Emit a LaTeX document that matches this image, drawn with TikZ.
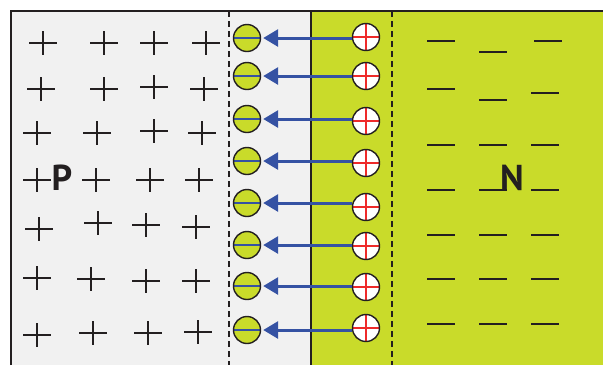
\documentclass[tikz,border=0pt]{standalone}
\usepackage{fontspec}
\setmainfont{PT Sans}
\usetikzlibrary{arrows.meta}
\definecolor{ngreen}{HTML}{C9DB2A}
\definecolor{pgray}{HTML}{F1F1F1}
\definecolor{ink}{HTML}{231F20}
\definecolor{eblue}{HTML}{3552A3}
\definecolor{hred}{HTML}{EE2A2A}
\tikzset{
  lchg/.style={circle, minimum size=27pt, inner sep=0pt, fill=ngreen, draw=ink, line width=1.4pt,
    path picture={\draw[eblue, line width=1.8pt] (path picture bounding box.west) -- (path picture bounding box.east);}},
  rchg/.style={circle, minimum size=27pt, inner sep=0pt, fill=white, draw=ink, line width=1.4pt,
    path picture={\draw[hred, line width=1.8pt] (path picture bounding box.west) -- (path picture bounding box.east)
      (path picture bounding box.north) -- (path picture bounding box.south);}},
  earrow/.style={eblue, line width=3pt, -{Triangle[length=15pt, width=17pt]}, shorten >=2pt},
  sign/.style={ink, line width=1.8pt},
  border/.style={ink, line width=2pt},
  dashline/.style={ink, line width=1.6pt, dash pattern=on 6pt off 4pt},
  biglabel/.style={font=\fontsize{36}{36}\selectfont\bfseries, text=ink, inner sep=0pt, anchor=base}
}
\begin{document}
\begin{tikzpicture}[x=1pt, y=-1pt]
\useasboundingbox (0,0) rectangle (603,365);
% regions
\fill[pgray] (11,11) rectangle (311,365);
\fill[ngreen] (311,11) rectangle (603,365);
\draw[border] (11,365) -- (11,11) -- (603,11);
\draw[border] (311,11) -- (311,365);
\draw[dashline] (229,11) -- (229,365);
\draw[dashline] (392,11) -- (392,365);
% plus signs
\foreach \x/\y in {43/43,104/43,154/43,206/43,
                   41/89,104/89,154/87,204/89,
                   37/133,97/133,154/131,202/133,
                   37/180,96/180,150/180,199/180,
                   39/229,98/223,146/225,196/227,
                   37/278,91/279,146/281,196/281,
                   37/335,93/333,148/333,198/332}
  \draw[sign] (\x-14,\y) -- (\x+14,\y) (\x,\y-12) -- (\x,\y+12);
% minus signs
\foreach \x/\y in {441/41,493/52,548/41,
                   441/89,493/100,545/93,
                   441/145,493/145,545/145,
                   441/190,493/190,545/190,
                   441/235,493/235,545/235,
                   441/279,493/279,545/279,
                   441/324,493/324,545/324}
  \draw[sign] (\x-14,\y) -- (\x+14,\y);
% labels
\node[biglabel] (P) at (62,190) {P};
\node[biglabel] (N) at (512,190) {N};
% charges
\foreach \i/\ly/\ry in {1/38/37,2/76/76,3/119/121,4/161/163,5/203/207,6/245/246,7/286/287,8/330/328}{
  \node[lchg] (lc\i) at (247,\ly) {};
  \node[rchg] (rc\i) at (366,\ry) {};
}
\foreach \i in {1,...,8}
  \draw[earrow] (rc\i.west |- lc\i.center) -- (lc\i.east);
\end{tikzpicture}
\end{document}
